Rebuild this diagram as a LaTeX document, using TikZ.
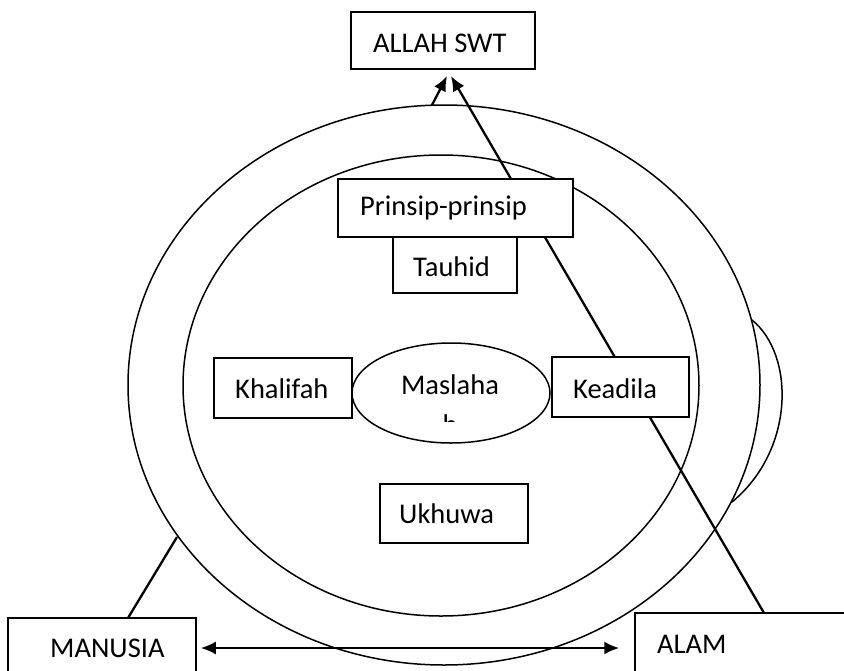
\documentclass[tikz,border=0pt]{standalone}
\usepackage{fontspec}
\setmainfont{Carlito}
\usetikzlibrary{arrows.meta,shapes.geometric}
\begin{document}
\begin{tikzpicture}[x=1pt,y=-1pt,
  wbox/.style={draw, fill=white, line width=1.5pt, inner sep=0pt, rectangle},
  txt/.style={inner sep=0pt, anchor=base west, font=\fontsize{28.5}{34}\selectfont},
  ring/.style={line width=1.5pt},
  arr/.style={line width=2.3pt, -{Latex[length=15pt,width=13pt]}},
  dbl/.style={line width=2.3pt, {Latex[length=15pt,width=13pt]}-{Latex[length=15pt,width=13pt]}},
  link/.style={line width=2.3pt}]
\clip (0,0) rectangle (844,670);
% rings
\draw[ring] (444,385) ellipse [x radius=316pt, y radius=280pt];
\draw[ring] (441,385.5) ellipse [x radius=258pt, y radius=230.5pt];
\coordinate (arcA) at (752,320);
\coordinate (arcB) at (732,502);
\draw[ring] (arcA) .. controls (795,355) and (795,450) .. (arcB);
% connector points
\coordinate (tipL) at (447,76);
\coordinate (tipR) at (451,76);
\coordinate (outerTop) at (432,105);
\coordinate (outerLeft) at (177,537);
\coordinate (alamTop) at (764,613);
\coordinate (manTop) at (128,618);
% lines
\draw[arr] (outerTop) -- (tipL);
\draw[arr] (alamTop) -- (tipR);
\draw[link] (manTop) -- (outerLeft);
% boxes
\node[wbox, minimum width=184pt, minimum height=57pt] (allah) at (443,40.5) {};
\node[wbox, minimum width=235pt, minimum height=58pt] (prinsip) at (455.5,208) {};
\node[wbox, minimum width=124pt, minimum height=56pt] (tauhid) at (455,265) {};
\node[wbox, minimum width=138pt, minimum height=60pt] (khalifah) at (283,388) {};
\node[wbox, minimum width=137pt, minimum height=60pt] (keadila) at (620.5,387) {};
\node[wbox, minimum width=148pt, minimum height=59pt] (ukhuwa) at (454,513.5) {};
\node[wbox, minimum width=188pt, minimum height=60pt] (manusia) at (102,648) {};
\node[wbox, minimum width=220pt, minimum height=70pt] (alam) at (745,648) {};
\node[draw, fill=white, line width=1.5pt, ellipse, inner sep=0pt, minimum width=198pt, minimum height=100pt] (maslahah) at (451,393) {};
% double arrow
\draw[dbl] ([xshift=4pt]manusia.east) -- ([xshift=-15pt]alam.west);
% texts
\node[txt] (allahT) at (373,52) {ALLAH SWT};
\node[txt] (prinsipT) at (360,215) {Prinsip-prinsip};
\node[txt] (tauhidT) at (413,276) {Tauhid};
\node[txt] (khalifahT) at (235,398) {Khalifah};
\node[txt] (keadilaT) at (573,398) {Keadila};
\node[txt] (ukhuwaT) at (399,523) {Ukhuwa};
\node[txt] (manusiaT) at (50,657) {MANUSIA};
\node[txt] (alamT) at (657,653) {ALAM};
\node[txt, anchor=base] (maslahahT) at (450,394) {Maslaha};
\begin{scope}
\clip (400,380) rectangle (500,421);
\node[txt, anchor=base] (maslahahH) at (450,434) {h};
\end{scope}
\end{tikzpicture}
\end{document}
